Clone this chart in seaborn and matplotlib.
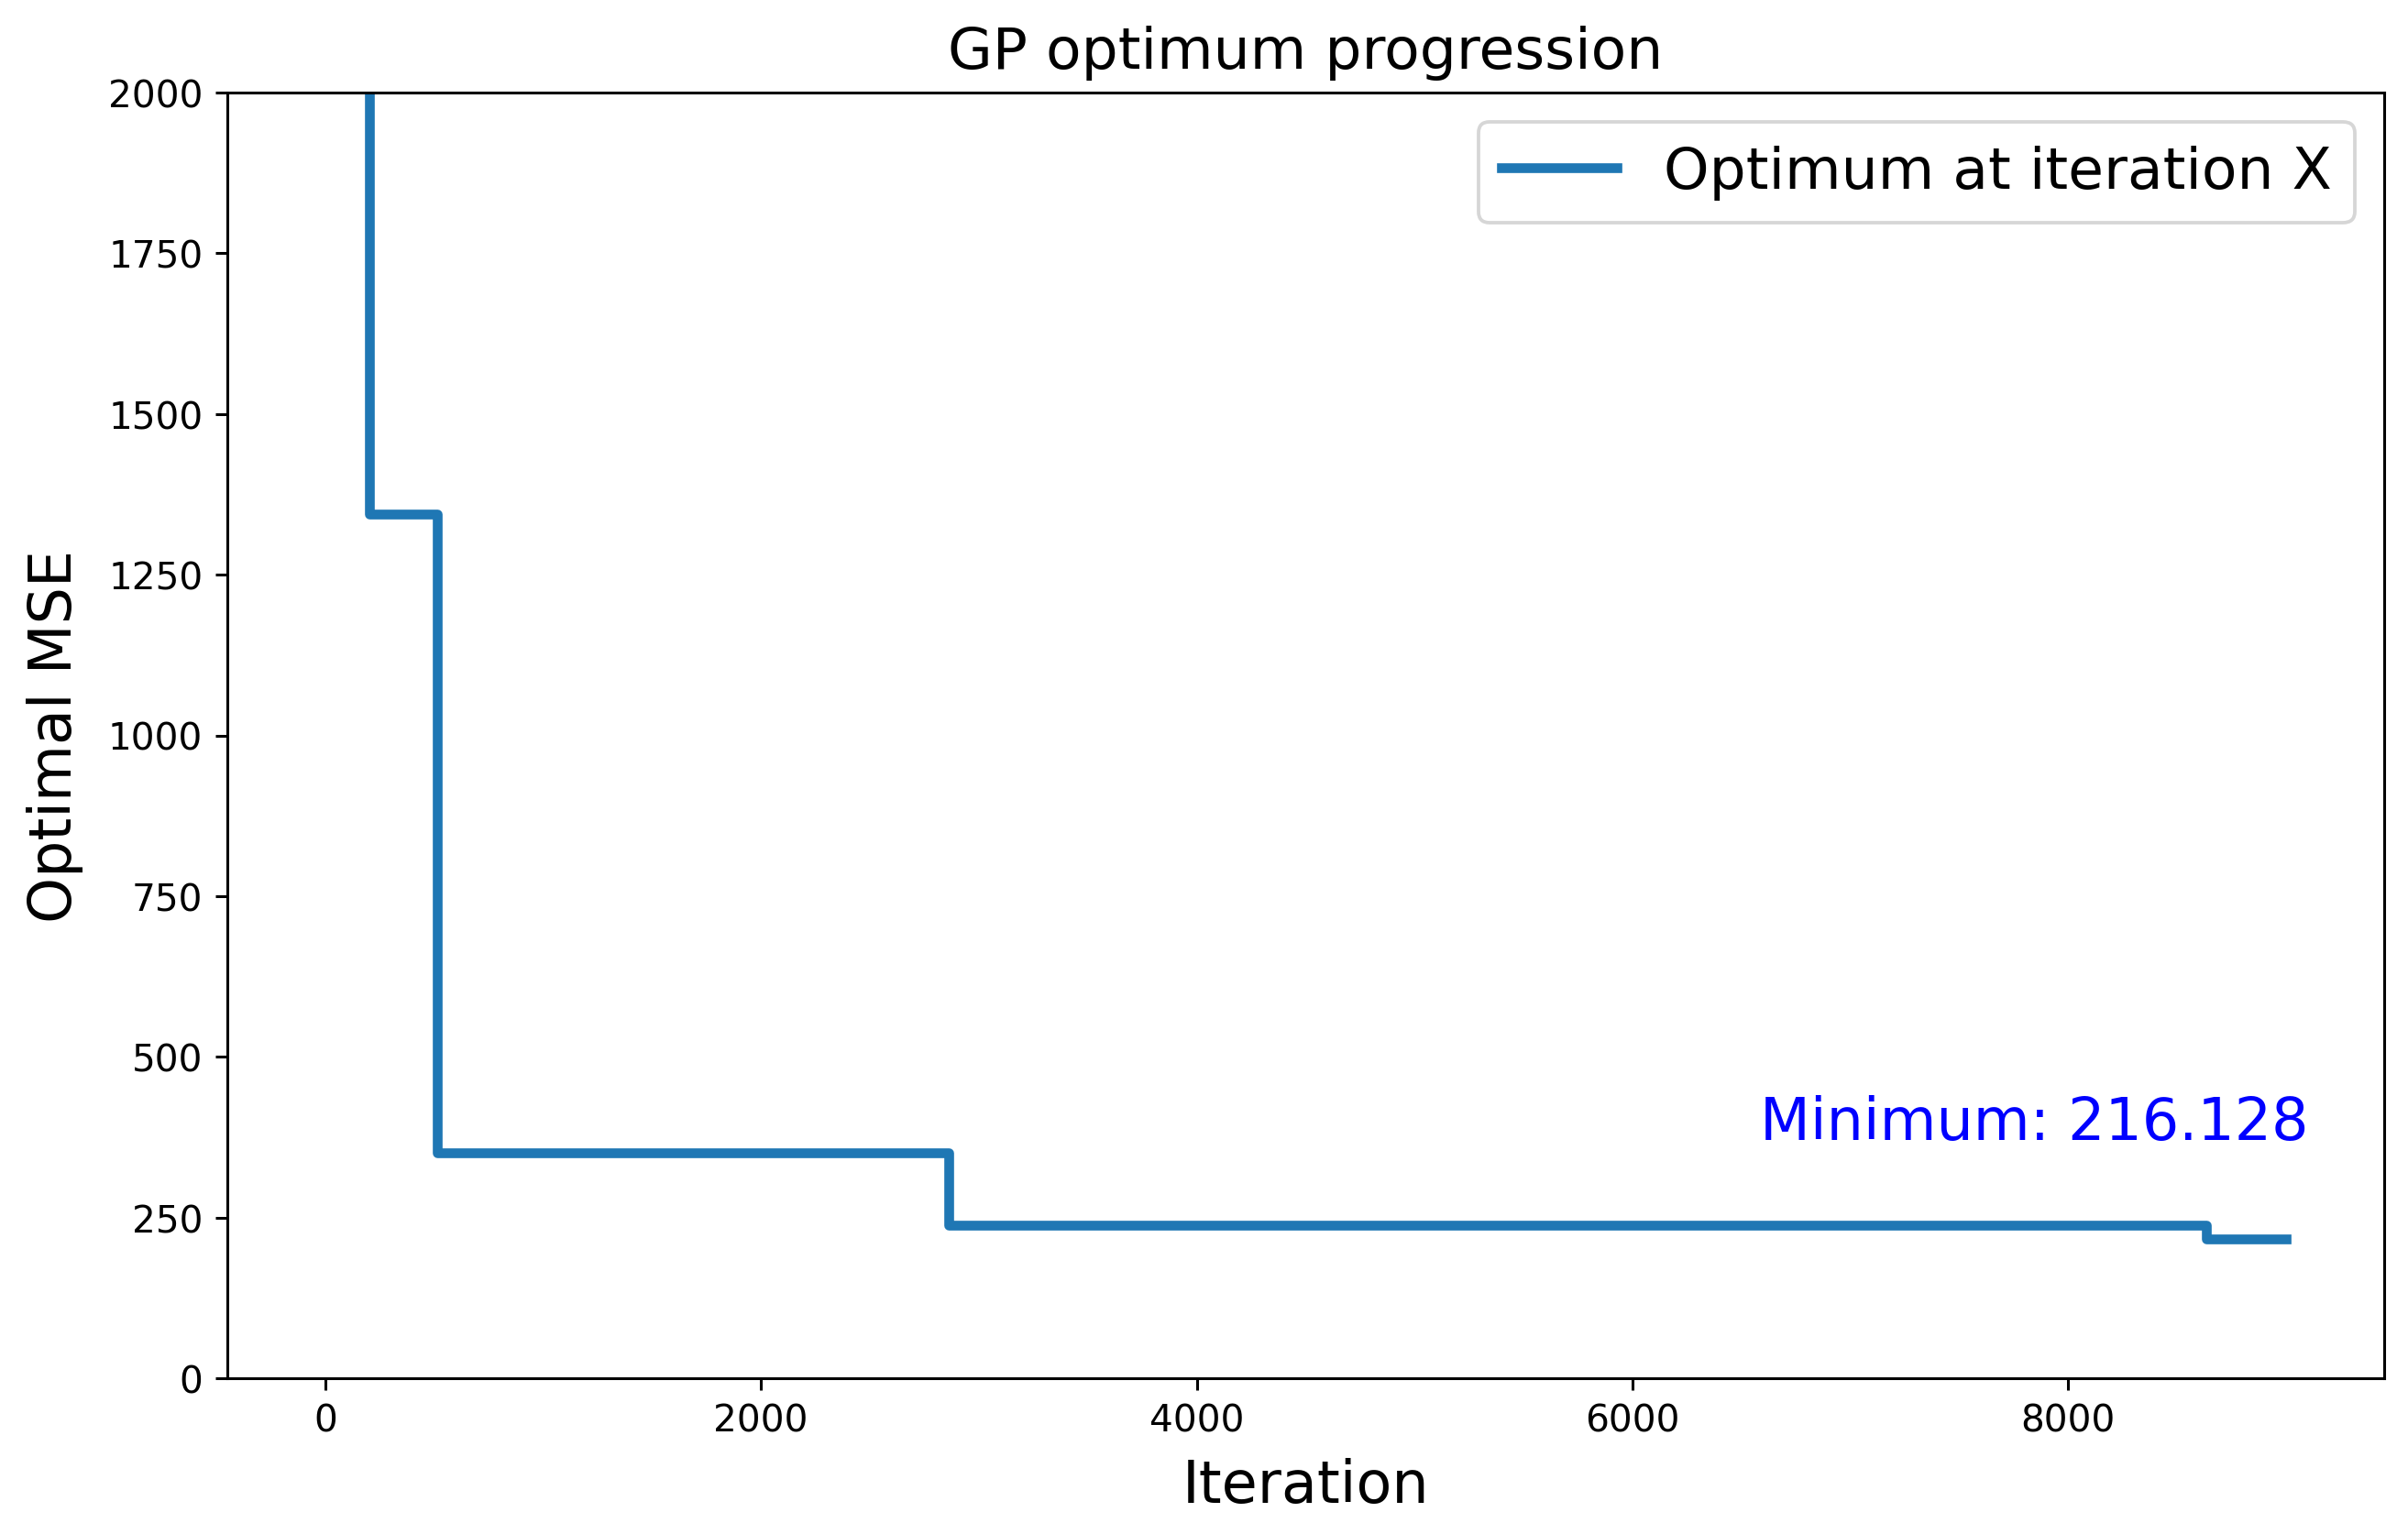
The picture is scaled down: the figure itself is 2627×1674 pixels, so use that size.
import matplotlib
matplotlib.use("Agg")
import matplotlib.pyplot as plt
import pandas as pd
import seaborn as sns

# iterations where the best MSE improved, and the best MSE from there on
iterations = [0, 200, 515, 2862, 8634, 9000]
best_mse = [5000.0, 1345.0, 350.0, 238.0, 216.128, 216.128]
min_label = "Minimum: 216.128"

df = pd.DataFrame({"Iteration": iterations, "MSE": best_mse})

fig = plt.figure(figsize=(9.59, 6.113), dpi=274)
ax = fig.add_axes([0.0944, 0.1015, 0.8953, 0.8376])

sns.lineplot(data=df, x="Iteration", y="MSE", ax=ax, color="#1f77b4",
             linewidth=2.8, drawstyle="steps-post",
             label="Optimum at iteration X")

ax.set_ylim(0, 2000)
ax.set_title("GP optimum progression", fontsize=16.6, pad=7)
ax.set_xlabel("Iteration", fontsize=16.7, labelpad=5)
ax.set_ylabel("Optimal MSE", fontsize=16.7, labelpad=7)
ax.tick_params(labelsize=10.7)

ax.text(iterations[-1] + 105, best_mse[-1] + 138, min_label, color="blue",
        fontsize=16.7, ha="right", va="bottom")

ax.legend(loc="upper right", fontsize=16.6)

fig.savefig("out.png", dpi=274)
